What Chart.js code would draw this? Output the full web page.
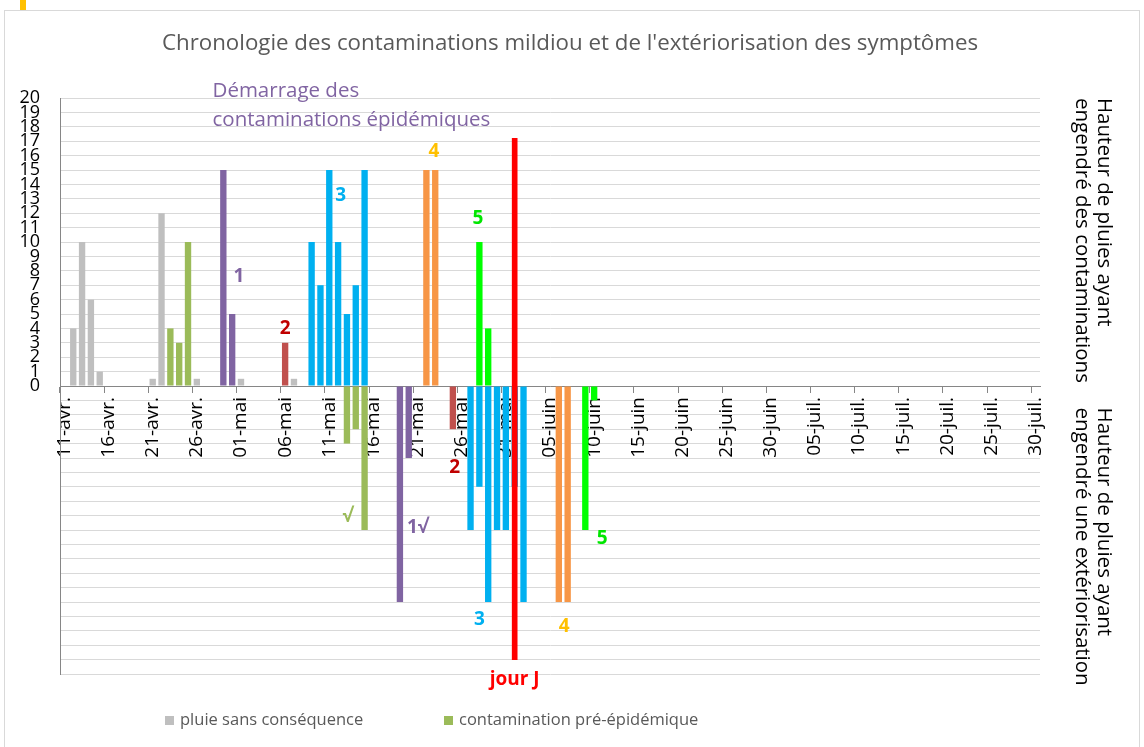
<!DOCTYPE html>
<html>
<head>
<meta charset="utf-8">
<script src="https://cdn.jsdelivr.net/npm/chart.js@4.4.1/dist/chart.umd.min.js"></script>
<style>
  html, body { margin: 0; padding: 0; background: #fff; }
  #wrap { position: relative; width: 1144px; height: 747px; }
</style>
</head>
<body>
<div id="wrap"><canvas id="chart" width="1144" height="747"></canvas></div>
<script>
// calendar of the x axis: 11 avril -> 30 juillet
const months = [['avr.', 11, 30], ['mai', 1, 31], ['juin', 1, 30], ['juil.', 1, 30]];
const dates = [];
months.forEach(([m, from, to]) => {
    for (let d = from; d <= to; d++) dates.push(String(d).padStart(2, '0') + '-' + m);
});

const yTicks = [0, 20]; // labelled part of the y axis (min / max)

// rain heights (mm) : positive = contamination, negative = extériorisation
const rainNoEffect = [['12-avr.', 4], ['13-avr.', 10], ['14-avr.', 6], ['15-avr.', 1],
    ['21-avr.', 0.5], ['22-avr.', 12], ['26-avr.', 0.5], ['01-mai', 0.5], ['07-mai', 0.5]];
const preEpidemic = [['23-avr.', 4], ['24-avr.', 3], ['25-avr.', 10],
    ['13-mai', -4], ['14-mai', -3], ['15-mai', -10]];
const contam1 = [['29-avr.', 15], ['30-avr.', 5], ['19-mai', -15], ['20-mai', -5]];
const contam2 = [['06-mai', 3], ['25-mai', -3]];
const contam3 = [['09-mai', 10], ['10-mai', 7], ['11-mai', 15], ['12-mai', 10], ['13-mai', 5], ['14-mai', 7], ['15-mai', 15],
    ['27-mai', -10], ['28-mai', -7], ['29-mai', -15], ['30-mai', -10], ['31-mai', -10], ['01-juin', -7], ['02-juin', -15]];
const contam4 = [['22-mai', 15], ['23-mai', 15], ['06-juin', -15], ['07-juin', -15]];
const contam5 = [['28-mai', 10], ['29-mai', 4], ['09-juin', -10], ['10-juin', -1]];
const jourJ = [['01-juin', [-19, 17.2]]];

// text notes: [text, date, day shift, value, colour]
const notes = [
    ['1', '30-avr.', 0.77, 7.6, '#8064A2'],
    ['2', '06-mai', 0, 4.0, '#C00000'],
    ['3', '12-mai', 0.3, 13.2, '#00B0F0'],
    ['4', '23-mai', -0.15, 16.3, '#FFC000'],
    ['5', '28-mai', -0.15, 11.6, '#00E600'],
    ['√', '13-mai', 0.1, -9.1, '#9BBB59'],
    ['1√', '21-mai', 0, -9.8, '#8064A2'],
    ['2', '25-mai', 0.2, -5.7, '#C00000'],
    ['3', '28-mai', 0, -16.2, '#00B0F0'],
    ['4', '06-juin', 0.6, -16.7, '#FFC000'],
    ['5', '10-juin', 0.9, -10.6, '#00E600'],
    ['jour J', '01-juin', 0, -20.4, '#FF0000']
];
const startNote = ['Démarrage des', 'contaminations épidémiques'];

const toXY = arr => arr.map(([d, v]) => ({ x: d, y: v }));

const bar = (label, data, color, legend) => ({
    label: label,
    data: toXY(data),
    backgroundColor: color,
    borderWidth: 0,
    grouped: false,
    categoryPercentage: 1,
    barPercentage: 0.72,
    inLegend: legend
});

const datasets = [
    Object.assign(bar('jour J', jourJ, '#FF0000', false), { barThickness: 5 }),
    bar('pluie sans conséquence', rainNoEffect, '#BFBFBF', true),
    bar('contamination pré-épidémique', preEpidemic, '#9BBB59', true),
    bar('contamination 1', contam1, '#8064A2', false),
    bar('contamination 2', contam2, '#C0504D', false),
    bar('contamination 3', contam3, '#00B0F0', false),
    bar('contamination 4', contam4, '#F79646', false),
    bar('contamination 5', contam5, '#00FF00', false)
];

const FONT = "'Open Sans', 'Noto Sans', sans-serif";

const extras = {
    id: 'extras',
    beforeDraw(chart) {
        const c = chart.ctx;
        c.save();
        c.fillStyle = '#fff';
        c.fillRect(0, 0, chart.width, chart.height);
        c.strokeStyle = '#d9d9d9';
        c.lineWidth = 1;
        c.strokeRect(4.5, 10.5, 1135, 745);
        c.fillStyle = '#FFC000';
        c.fillRect(20, 0, 6, 10);
        c.restore();
    },
    afterDraw(chart) {
        const c = chart.ctx;
        const xs = chart.scales.x, ys = chart.scales.y;
        const area = chart.chartArea;
        c.save();

        // title
        c.fillStyle = '#595959';
        c.font = '22.3px ' + FONT;
        c.textAlign = 'center';
        c.textBaseline = 'middle';
        c.fillText("Chronologie des contaminations mildiou et de l'extériorisation des symptômes", 570, 44);

        // start of epidemic contaminations
        c.fillStyle = '#8064A2';
        c.font = '20.5px ' + FONT;
        c.textAlign = 'left';
        const sx = xs.getPixelForValue(dates.indexOf('28-avr.')) - 2;
        c.fillText(startNote[0], sx, ys.getPixelForValue(20.45));
        c.fillText(startNote[1], sx, ys.getPixelForValue(18.45));

        // numbered notes
        c.textAlign = 'center';
        c.font = 'bold 19px ' + FONT;
        notes.forEach(([t, d, shift, v, col]) => {
            c.fillStyle = col;
            c.fillText(t, xs.getPixelForValue(dates.indexOf(d) + shift), ys.getPixelForValue(v));
        });

        // right side titles, rotated
        c.fillStyle = '#000';
        c.font = '20.5px ' + FONT;
        c.textAlign = 'left';
        const side = [
            [ys.getPixelForValue(20), ['Hauteur de pluies ayant', 'engendré des contaminations']],
            [ys.getPixelForValue(-1.5), ['Hauteur de pluies ayant', 'engendré une extériorisation']]
        ];
        side.forEach(([top, lines]) => {
            lines.forEach((l, k) => {
                c.save();
                c.translate(area.right + 64 - k * 22, top);
                c.rotate(Math.PI / 2);
                c.fillText(l, 0, 0);
                c.restore();
            });
        });

        // legend
        c.font = '16.5px ' + FONT;
        const legendX = [165, 444];
        chart.data.datasets.filter(ds => ds.inLegend).forEach((ds, k) => {
            c.fillStyle = ds.backgroundColor;
            c.fillRect(legendX[k], 716, 9, 9);
            c.fillStyle = '#595959';
            c.fillText(ds.label, legendX[k] + 15, 720);
        });
        c.restore();
    }
};

new Chart(document.getElementById('chart'), {
    type: 'bar',
    data: { labels: dates, datasets: datasets },
    options: {
        responsive: false,
        animation: false,
        devicePixelRatio: 1,
        layout: { padding: { left: 0, right: 104, top: 98, bottom: 73 } },
        plugins: { legend: { display: false }, tooltip: { enabled: false }, title: { display: false } },
        scales: {
            x: {
                type: 'category',
                position: { y: 0 },
                z: 1,
                offset: true,
                grid: {
                    offset: true,
                    drawOnChartArea: false,
                    drawTicks: true,
                    tickLength: 6,
                    color: ctx => (ctx.index % 5 === 0 ? '#868686' : 'rgba(0,0,0,0)')
                },
                border: { color: '#868686', width: 1 },
                ticks: {
                    autoSkip: false,
                    maxRotation: 90,
                    minRotation: 90,
                    padding: 5,
                    color: '#000',
                    font: { family: FONT, size: 19 },
                    callback(v, i) { return i % 5 === 0 ? this.getLabelForValue(v) : ''; }
                }
            },
            y: {
                min: -yTicks[1],
                max: yTicks[1],
                afterFit(scale) { scale.width = 60; },
                grid: { color: '#d9d9d9', drawTicks: false },
                border: { color: '#868686' },
                ticks: {
                    stepSize: 1,
                    autoSkip: false,
                    padding: 20,
                    color: '#000',
                    font: { family: FONT, size: 18 },
                    callback: v => (v >= yTicks[0] ? v : '')
                }
            }
        }
    },
    plugins: [extras]
});
</script>
</body>
</html>
